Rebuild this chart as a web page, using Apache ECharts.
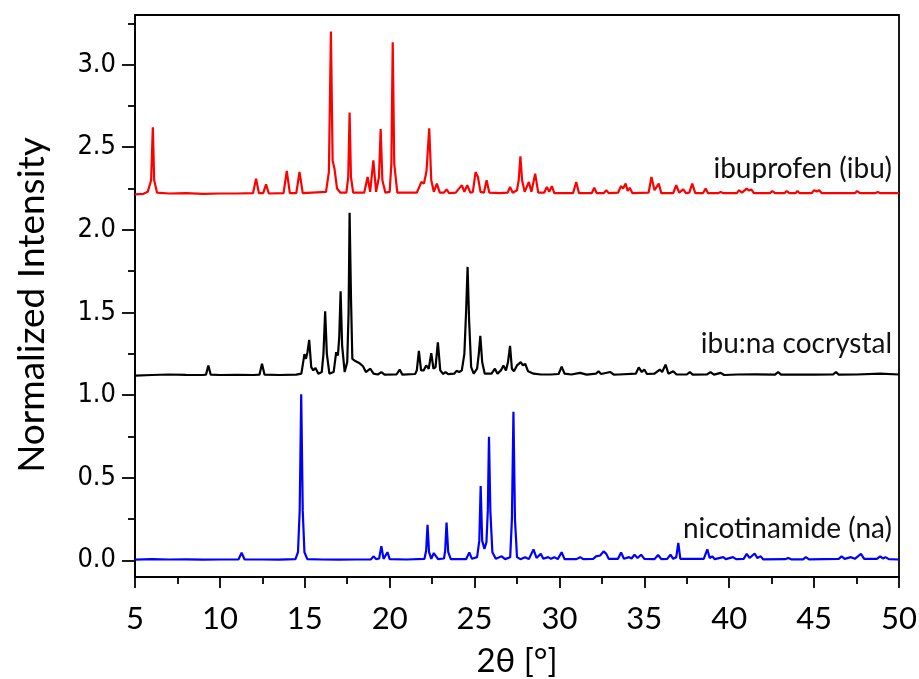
<!DOCTYPE html>
<html>
<head>
<meta charset="utf-8">
<script src="https://cdn.jsdelivr.net/npm/echarts@6/dist/echarts.min.js"></script>
<style>
html,body{margin:0;padding:0;background:#fff;}
#chart{width:919px;height:679px;}
</style>
</head>
<body>
<div id="chart"></div>
<script>
// ---- data (2θ in degrees, normalized intensity with vertical offsets) ----
const ibuprofen = [
[5.0,2.215],[5.5,2.218],[5.75,2.23],[5.95,2.3],[6.05,2.62],[6.13,2.3],[6.3,2.225],
[7,2.22],[8,2.222],[9,2.218],[10,2.22],[11,2.22],[11.95,2.222],[12.13,2.31],[12.3,2.222],
[12.55,2.222],[12.72,2.275],[12.88,2.22],[13.75,2.222],[13.94,2.357],[14.12,2.222],
[14.5,2.222],[14.69,2.35],[14.88,2.222],[16.25,2.23],[16.42,2.35],[16.54,3.2],[16.64,2.42],
[16.75,2.37],[16.9,2.25],[17.1,2.225],[17.45,2.225],[17.56,2.32],[17.64,2.71],[17.72,2.32],
[17.85,2.225],[18.5,2.225],[18.7,2.32],[18.85,2.23],[19.04,2.42],[19.2,2.23],[19.37,2.32],
[19.47,2.61],[19.57,2.3],[19.75,2.225],[20.0,2.23],[20.1,2.4],[20.18,3.135],[20.27,2.4],
[20.45,2.225],[21.6,2.225],[21.87,2.29],[22.02,2.28],[22.17,2.356],[22.33,2.615],[22.45,2.3],
[22.6,2.23],[22.78,2.28],[22.95,2.225],[23.2,2.225],[23.35,2.245],[23.5,2.222],[23.9,2.225],
[24.04,2.245],[24.15,2.235],[24.26,2.27],[24.4,2.23],[24.57,2.27],[24.75,2.225],[24.9,2.23],
[25.06,2.35],[25.2,2.32],[25.35,2.23],[25.55,2.225],[25.71,2.3],[25.87,2.225],[26.5,2.222],
[26.95,2.225],[27.09,2.26],[27.25,2.225],[27.5,2.24],[27.6,2.3],[27.7,2.445],[27.8,2.3],
[27.95,2.23],[28.2,2.29],[28.35,2.23],[28.57,2.34],[28.75,2.225],[29.1,2.225],[29.26,2.26],
[29.4,2.23],[29.55,2.265],[29.7,2.222],[30.8,2.222],[30.99,2.29],[31.15,2.222],[31.9,2.222],
[32.05,2.255],[32.2,2.222],[32.6,2.222],[32.76,2.24],[32.9,2.222],[33.45,2.225],[33.63,2.265],
[33.75,2.25],[33.9,2.28],[34.02,2.235],[34.14,2.255],[34.3,2.222],[35.25,2.225],[35.42,2.32],
[35.6,2.24],[35.85,2.28],[36.0,2.222],[36.7,2.222],[36.88,2.27],[37.05,2.225],[37.29,2.245],
[37.45,2.222],[37.65,2.225],[37.82,2.28],[38.0,2.222],[38.45,2.222],[38.61,2.25],[38.75,2.222],
[39.35,2.222],[39.5,2.23],[39.65,2.222],[40.45,2.222],[40.58,2.24],[40.75,2.225],[41.03,2.25],
[41.15,2.238],[41.3,2.245],[41.45,2.222],[42.4,2.222],[42.54,2.235],[42.7,2.222],[43.25,2.222],
[43.39,2.235],[43.55,2.222],[43.9,2.222],[44.02,2.235],[44.15,2.222],[44.85,2.222],[45.0,2.24],
[45.15,2.232],[45.3,2.24],[45.45,2.222],[47.4,2.222],[47.53,2.235],[47.7,2.222],[48.6,2.222],
[48.75,2.23],[48.9,2.222],[50,2.222]
];

const cocrystal = [
[5,1.118],[6,1.122],[7,1.125],[8,1.123],[9,1.122],[9.18,1.124],[9.32,1.18],[9.46,1.124],
[10,1.122],[11,1.123],[12,1.122],[12.33,1.124],[12.48,1.19],[12.63,1.124],[13.5,1.122],
[14.5,1.124],[14.8,1.13],[14.98,1.248],[15.07,1.22],[15.16,1.26],[15.26,1.335],[15.38,1.17],
[15.5,1.15],[15.63,1.165],[15.8,1.13],[16.0,1.14],[16.1,1.25],[16.2,1.507],[16.3,1.25],
[16.45,1.13],[16.7,1.14],[16.85,1.26],[16.95,1.24],[17.03,1.35],[17.11,1.628],[17.2,1.3],
[17.35,1.14],[17.5,1.2],[17.58,1.5],[17.64,2.104],[17.72,1.6],[17.8,1.22],[18.0,1.205],
[18.2,1.195],[18.43,1.175],[18.6,1.14],[18.86,1.16],[19.05,1.13],[19.3,1.125],[19.51,1.14],
[19.7,1.124],[20.4,1.125],[20.59,1.155],[20.75,1.124],[21.5,1.128],[21.6,1.15],[21.72,1.268],
[21.85,1.15],[22.0,1.15],[22.15,1.18],[22.3,1.16],[22.45,1.254],[22.58,1.16],[22.7,1.17],
[22.84,1.319],[22.98,1.15],[23.15,1.128],[23.29,1.14],[23.45,1.127],[23.8,1.13],[23.94,1.147],
[24.1,1.14],[24.25,1.15],[24.4,1.25],[24.5,1.5],[24.59,1.776],[24.68,1.45],[24.8,1.17],
[24.95,1.13],[25.15,1.16],[25.25,1.25],[25.34,1.359],[25.45,1.2],[25.6,1.13],[26.0,1.13],
[26.2,1.16],[26.35,1.13],[26.55,1.15],[26.7,1.18],[26.85,1.15],[26.97,1.2],[27.09,1.298],
[27.2,1.16],[27.32,1.145],[27.5,1.18],[27.72,1.2],[27.85,1.18],[27.98,1.19],[28.15,1.145],
[28.48,1.13],[28.9,1.125],[29.5,1.125],[29.95,1.128],[30.13,1.173],[30.3,1.13],[30.7,1.125],
[31.22,1.135],[31.6,1.124],[32.15,1.13],[32.3,1.145],[32.45,1.128],[33.0,1.14],[33.2,1.124],
[33.5,1.125],[34.5,1.13],[34.67,1.168],[34.85,1.14],[35.0,1.155],[35.15,1.128],[35.6,1.13],
[35.91,1.155],[36.05,1.14],[36.25,1.185],[36.42,1.13],[36.7,1.145],[36.9,1.125],[37.5,1.125],
[37.68,1.14],[37.85,1.124],[38.7,1.126],[38.9,1.14],[39.1,1.124],[39.5,1.135],[39.7,1.122],
[40.5,1.125],[41.5,1.126],[42.7,1.124],[42.88,1.14],[43.05,1.124],[44,1.125],[45,1.124],
[46.1,1.125],[46.29,1.14],[46.45,1.124],[47.5,1.125],[48.9,1.13],[50,1.125]
];

const nicotinamide = [
[5,0.005],[6,0.008],[7,0.006],[8,0.007],[9,0.005],[10,0.006],[11.1,0.007],[11.28,0.047],
[11.45,0.007],[12.5,0.006],[13.5,0.005],[14.45,0.008],[14.6,0.05],[14.7,0.3],[14.79,1.005],
[14.88,0.3],[14.98,0.05],[15.15,0.008],[16,0.006],[17,0.005],[18,0.006],[18.9,0.007],
[19.06,0.025],[19.2,0.008],[19.38,0.012],[19.51,0.087],[19.64,0.01],[19.75,0.01],[19.87,0.05],
[20.0,0.008],[21,0.006],[22.05,0.01],[22.15,0.06],[22.23,0.216],[22.32,0.05],[22.45,0.01],
[22.6,0.045],[22.7,0.045],[22.85,0.008],[23.2,0.012],[23.27,0.06],[23.35,0.229],[23.45,0.05],
[23.6,0.008],[24.5,0.008],[24.69,0.048],[24.85,0.01],[25.15,0.02],[25.28,0.12],[25.36,0.451],
[25.45,0.12],[25.58,0.07],[25.7,0.11],[25.78,0.3],[25.85,0.748],[25.93,0.3],[26.05,0.05],
[26.25,0.01],[26.6,0.025],[26.8,0.008],[27.1,0.02],[27.2,0.25],[27.29,0.9],[27.38,0.25],
[27.5,0.02],[27.7,0.008],[27.98,0.02],[28.2,0.008],[28.47,0.067],[28.65,0.015],[28.9,0.04],
[29.05,0.01],[29.34,0.02],[29.5,0.01],[29.7,0.02],[29.9,0.008],[30.13,0.05],[30.3,0.008],
[31.0,0.008],[31.22,0.02],[31.4,0.008],[32.0,0.01],[32.15,0.025],[32.4,0.03],[32.6,0.055],
[32.76,0.04],[32.9,0.01],[33.45,0.01],[33.63,0.048],[33.8,0.01],[34.1,0.02],[34.25,0.012],
[34.42,0.035],[34.6,0.015],[34.81,0.035],[35.0,0.01],[35.6,0.008],[35.81,0.033],[36.0,0.008],
[36.35,0.01],[36.54,0.035],[36.7,0.01],[36.88,0.02],[37.0,0.107],[37.12,0.01],[38.5,0.01],
[38.71,0.067],[38.85,0.015],[39.0,0.025],[39.15,0.008],[39.65,0.02],[39.8,0.008],[40.22,0.02],
[40.4,0.008],[40.85,0.01],[41.03,0.04],[41.2,0.015],[41.5,0.042],[41.65,0.015],[41.86,0.025],
[42.0,0.007],[43.3,0.008],[43.47,0.015],[43.65,0.007],[44.35,0.007],[44.51,0.02],[44.7,0.007],
[46.45,0.01],[46.62,0.025],[46.8,0.01],[47.17,0.02],[47.4,0.01],[47.76,0.04],[47.95,0.01],
[48.7,0.01],[48.89,0.025],[49.05,0.012],[49.2,0.02],[49.4,0.008],[50,0.006]
];

const seriesNames = ['ibuprofen (ibu)', 'ibu:na cocrystal', 'nicotinamide (na)'];
const yMajorTicks = [0, 0.5, 1.0, 1.5, 2.0, 2.5, 3.0];
const yMinorTicks = [0.25, 0.75, 1.25, 1.75, 2.25, 2.75, 3.25];
const xAxisTitle = '2θ [°]';
const yAxisTitle = 'Normalized Intensity';

// ---- chart ----
const chart = echarts.init(document.getElementById('chart'), null, {renderer: 'canvas'});
const black = '#000';
const labelFont = 'Lato, "Open Sans", sans-serif';
const lw = 2.2;

chart.setOption({
  animation: false,
  backgroundColor: '#fff',
  grid: {
    left: 135, right: 20, top: 15, bottom: 102,
    show: true, borderColor: black, borderWidth: 1.8,
    containLabel: false, outerBoundsMode: 'none'
  },
  xAxis: {
    type: 'value', min: 5, max: 50, interval: 5,
    name: xAxisTitle, nameLocation: 'middle', nameGap: 68,
    nameTextStyle: {fontFamily: labelFont, fontSize: 33, color: black},
    axisLine: {show: true, onZero: false, lineStyle: {color: black, width: 1.8}},
    axisTick: {show: true, inside: false, length: 11, lineStyle: {color: black, width: 1.8}},
    minorTick: {show: true, splitNumber: 2, length: 7, lineStyle: {color: black, width: 1.8}},
    axisLabel: {fontFamily: labelFont, fontSize: 31, color: black, margin: 26},
    splitLine: {show: false}, minorSplitLine: {show: false}
  },
  yAxis: [{
    type: 'value', min: -0.1, max: 3.3,
    name: yAxisTitle, nameLocation: 'middle', nameGap: 84,
    nameTextStyle: {fontFamily: labelFont, fontSize: 37, color: black, padding: [0, 18, 0, 0]},
    axisLine: {show: true, onZero: false, lineStyle: {color: black, width: 1.8}},
    axisTick: {show: true, inside: false, length: 13, customValues: yMajorTicks, lineStyle: {color: black, width: 1.8}},
    axisLabel: {
      customValues: yMajorTicks,
      fontFamily: '"DejaVu Sans Condensed", "DejaVu Sans", sans-serif', fontSize: 27, color: black, margin: 19,
      formatter: v => v.toFixed(1)
    },
    splitLine: {show: false}
  }, {
    type: 'value', min: -0.1, max: 3.3, position: 'left',
    axisLine: {show: false},
    axisTick: {show: true, inside: false, length: 7, customValues: yMinorTicks, lineStyle: {color: black, width: 1.8}},
    axisLabel: {show: false},
    splitLine: {show: false}
  }],
  graphic: [
    {type: 'text', right: 27, top: 155, style: {text: seriesNames[0], fontFamily: labelFont, fontSize: 28, fill: '#111'}},
    {type: 'text', right: 27, top: 330, style: {text: seriesNames[1], fontFamily: labelFont, fontSize: 28, fill: '#111'}},
    {type: 'text', right: 27, top: 515, style: {text: seriesNames[2], fontFamily: labelFont, fontSize: 28, fill: '#111'}}
  ],
  series: [
    {name: seriesNames[2], type: 'line', data: nicotinamide, showSymbol: false, symbol: 'none',
     lineStyle: {color: '#0000ff', width: lw}, itemStyle: {color: '#0000ff'}},
    {name: seriesNames[1], type: 'line', data: cocrystal, showSymbol: false, symbol: 'none',
     lineStyle: {color: '#000000', width: lw}, itemStyle: {color: '#000000'}},
    {name: seriesNames[0], type: 'line', data: ibuprofen, showSymbol: false, symbol: 'none',
     lineStyle: {color: '#ff0000', width: lw}, itemStyle: {color: '#ff0000'}}
  ]
});
</script>
</body>
</html>
